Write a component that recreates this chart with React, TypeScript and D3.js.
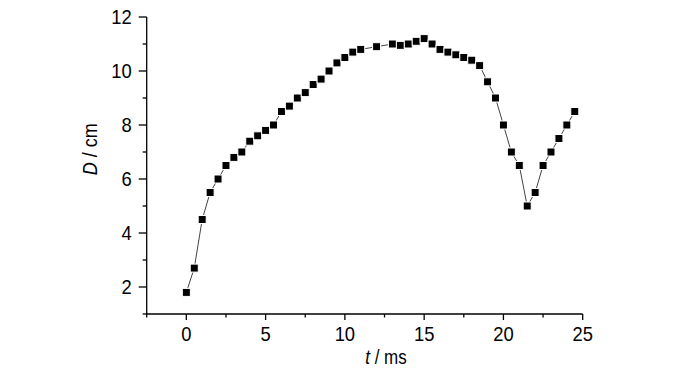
import React, { useEffect, useRef } from 'react';
import * as d3 from 'd3';

// time (ms) and D (cm)
const tValues = [
  0, 0.5, 1, 1.5, 2, 2.5, 3, 3.5, 4, 4.5, 5, 5.5, 6, 6.5, 7, 7.5, 8, 8.5, 9, 9.5, 10, 10.5, 11,
  12, 13, 13.5, 14, 14.5, 15, 15.5, 16, 16.5, 17, 17.5, 18, 18.5, 19, 19.5, 20, 20.5, 21, 21.5,
  22, 22.5, 23, 23.5, 24, 24.5,
];
const dValues = [
  1.8, 2.7, 4.5, 5.5, 6.0, 6.5, 6.8, 7.0, 7.4, 7.6, 7.8, 8.0, 8.5, 8.7, 9.0, 9.2, 9.5, 9.7, 10.0, 10.3, 10.5, 10.7, 10.8,
  10.9, 11.0, 10.95, 11.0, 11.1, 11.2, 11.0, 10.8, 10.7, 10.6, 10.5, 10.4, 10.2, 9.6, 9.0, 8.0, 7.0, 6.5, 5.0,
  5.5, 6.5, 7.0, 7.5, 8.0, 8.5,
];
const xMajorTicks = [0, 5, 10, 15, 20, 25];
const xMinorTicks = [-2.5, 2.5, 7.5, 12.5, 17.5, 22.5];
const yMajorTicks = [2, 4, 6, 8, 10, 12];
const yMinorTicks = [1, 3, 5, 7, 9, 11];

const FONT = "'Liberation Sans', Arial, sans-serif";

const App = () => {
  const ref = useRef<SVGSVGElement>(null);

  useEffect(() => {
    const svg = d3.select(ref.current);
    svg.selectAll('*').remove();

    const x = d3.scaleLinear().domain([-2.5, 25]).range([146.7, 582.7]);
    const y = d3.scaleLinear().domain([1, 12]).range([314, 17]);
    const data = tValues.map((t, i) => ({ t, d: dValues[i] }));

    // x axis
    const gx = svg.append('g').attr('transform', `translate(0,${y(1)})`);
    gx.append('line')
      .attr('x1', x(-2.5)).attr('x2', x(25))
      .attr('stroke', '#000').attr('stroke-width', 1.3);
    xMajorTicks.forEach(v => {
      gx.append('line').attr('x1', x(v)).attr('x2', x(v)).attr('y1', 0).attr('y2', 6)
        .attr('stroke', '#000').attr('stroke-width', 1.3);
      gx.append('text').attr('transform', `translate(${x(v)},27) scale(0.92,1)`)
        .attr('text-anchor', 'middle')
        .style('font-family', FONT).style('font-size', '20px')
        .text(v);
    });
    xMinorTicks.forEach(v => {
      gx.append('line').attr('x1', x(v)).attr('x2', x(v)).attr('y1', 0).attr('y2', 3.5)
        .attr('stroke', '#000').attr('stroke-width', 1.3);
    });
    const xt = gx.append('text').attr('transform', `translate(386,50) scale(0.85,1)`)
      .attr('text-anchor', 'middle')
      .style('font-family', FONT).style('font-size', '20px');
    xt.append('tspan').style('font-style', 'italic').text('t');
    xt.append('tspan').text(' / ms');

    // y axis
    const gy = svg.append('g').attr('transform', `translate(${x(-2.5)},0)`);
    gy.append('line')
      .attr('y1', y(1)).attr('y2', y(12))
      .attr('stroke', '#000').attr('stroke-width', 1.3);
    yMajorTicks.forEach(v => {
      gy.append('line').attr('y1', y(v)).attr('y2', y(v)).attr('x1', 0).attr('x2', -8)
        .attr('stroke', '#000').attr('stroke-width', 1.3);
      gy.append('text').attr('transform', `translate(-15,${y(v)}) scale(0.92,1)`).attr('dy', '0.35em')
        .attr('text-anchor', 'end')
        .style('font-family', FONT).style('font-size', '20px')
        .text(v);
    });
    yMinorTicks.forEach(v => {
      gy.append('line').attr('y1', y(v)).attr('y2', y(v)).attr('x1', 0).attr('x2', -4)
        .attr('stroke', '#000').attr('stroke-width', 1.3);
    });
    const yt = svg.append('text')
      .attr('transform', `translate(97,${y(7.1)}) rotate(-90) scale(0.9,1)`)
      .attr('text-anchor', 'middle')
      .style('font-family', FONT).style('font-size', '20px');
    yt.append('tspan').style('font-style', 'italic').text('D');
    yt.append('tspan').text(' / cm');

    // connecting line
    const line = d3.line<{ t: number; d: number }>().x(p => x(p.t)).y(p => y(p.d));
    svg.append('path').datum(data)
      .attr('d', line)
      .attr('fill', 'none')
      .attr('stroke', '#444')
      .attr('stroke-width', 1);

    // square markers
    const s = 8;
    svg.append('g').selectAll('rect').data(data).join('rect')
      .attr('x', p => x(p.t) - s / 2)
      .attr('y', p => y(p.d) - s / 2)
      .attr('width', s).attr('height', s)
      .attr('fill', '#000')
      .attr('stroke', '#fff')
      .attr('stroke-width', 1);
  }, []);

  return (
    <svg ref={ref} width={700} height={373}
      style={{ position: 'absolute', left: 0, top: 0, background: '#fff' }} />
  );
};

export default App;
